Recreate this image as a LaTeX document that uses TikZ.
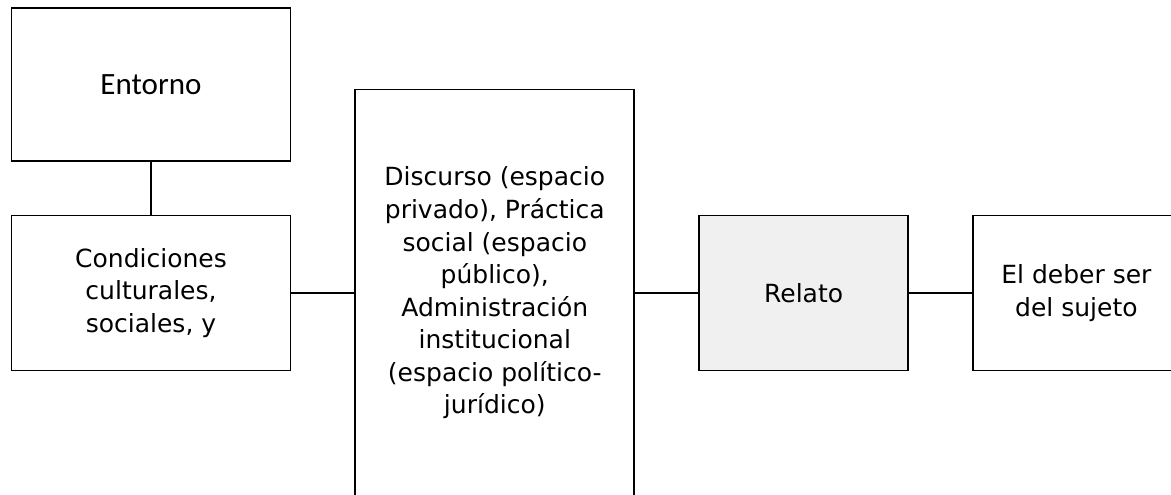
\documentclass[tikz,border=0pt]{standalone}
\usepackage{fontspec}
\setmainfont{DejaVu Sans}
\newfontfamily\entornofont{Carlito}
\usetikzlibrary{positioning}

\begin{document}
\begin{tikzpicture}[x=1pt,y=-1pt,node distance=63pt,
  box/.style={draw,line width=1.8pt,align=center,inner sep=0pt,
    minimum width=279pt,minimum height=155pt,
    font=\fontsize{25}{32.6}\selectfont}]
  \useasboundingbox (0,0) rectangle (1171,495);
  \clip (0,0) rectangle (1171,495);

  \node[box] (cond) at (151,293) {Condiciones\\culturales,\\sociales, y};
  \node[box,above=53pt of cond,minimum height=153pt,
    font=\entornofont\fontsize{31}{36}\selectfont] (entorno) {Entorno};
  \node[box,right=of cond,minimum height=407pt] (mid)
    {Discurso (espacio\\privado), Práctica\\social (espacio\\público),\\Administración\\institucional\\(espacio político-\\jurídico)};
  \node[box,right=of mid,minimum width=209pt,fill=black!6] (relato) {Relato};
  \node[box,right=of relato,minimum width=207pt] (deber) {El deber ser\\del sujeto};

  \draw [line width=1.8pt] (entorno) -- (cond);
  \draw [line width=1.8pt] (cond) -- (mid);
  \draw [line width=1.8pt] (mid) -- (relato);
  \draw [line width=1.8pt] (relato) -- (deber);
\end{tikzpicture}
\end{document}
